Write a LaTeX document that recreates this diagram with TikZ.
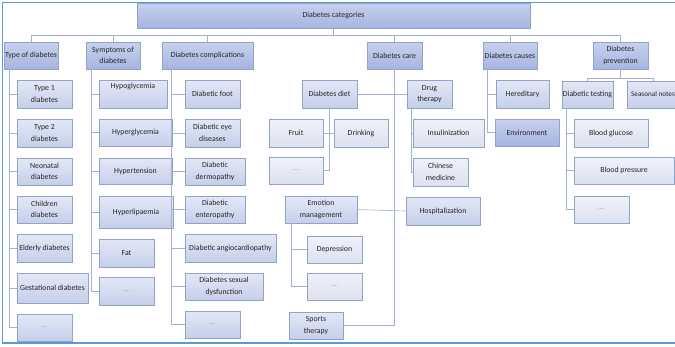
\documentclass[tikz,border=0pt]{standalone}
\usepackage{fontspec}
\setmainfont{Carlito}
\usetikzlibrary{calc}
\definecolor{frameblue}{HTML}{5B9BD5}
\definecolor{edgec}{HTML}{A3B0D6}
\definecolor{bord}{HTML}{93A3C8}
\definecolor{dkT}{HTML}{C7D0EE}\definecolor{dkB}{HTML}{A6B5E0}
\definecolor{mdT}{HTML}{E3E8F6}\definecolor{mdB}{HTML}{C5CFEA}
\definecolor{ltT}{HTML}{F0F2F9}\definecolor{ltB}{HTML}{DCE1F0}
\tikzset{
  basebox/.style={draw=bord, line width=0.5pt, inner sep=0pt, align=center,
    font=\fontsize{7.8}{11.5}\selectfont, text=black!85},
  boxdark/.style={basebox, top color=dkT, bottom color=dkB},
  boxmid/.style={basebox, top color=mdT, bottom color=mdB},
  boxlight/.style={basebox, top color=ltT, bottom color=ltB},
  conn/.style={draw=edgec, line width=0.6pt}
}
\newcommand\bx[7]{\node[#7, minimum width={(#4-#2)*1pt}, minimum height={(#5-#3)*1pt}]
  (#1) at ({(#2+#4)/2},{(#3+#5)/2}) {#6};}
\newcommand\dts{{\fontsize{5}{6}\selectfont\color{black!55}.....}}
\begin{document}
\begin{tikzpicture}[x=1pt,y=-1pt]
\useasboundingbox (0,0) rectangle (675,346);
\clip (0,0) rectangle (675,346);
\fill[white] (0,0) rectangle (675,346);

% root and level 1
\bx{R}{137}{3}{530}{28}{Diabetes categories}{boxdark}
\bx{A}{4}{42}{58}{69}{Type of diabetes}{boxdark}
\bx{B}{86}{42}{140}{69}{Symptoms of\\diabetes}{boxdark}
\bx{C}{162}{42}{253}{69}{Diabetes complications}{boxdark}
\bx{D}{367}{42}{422}{69}{Diabetes care}{boxdark}
\bx{E}{483}{42}{537}{69}{Diabetes causes}{boxdark}
\bx{F}{593}{42}{648}{69}{Diabetes\\prevention}{boxdark}

% type children
\bx{a1}{17}{80}{72}{108}{Type 1\\diabetes}{boxmid}
\bx{a2}{17}{119}{72}{147}{Type 2\\diabetes}{boxmid}
\bx{a3}{17}{158}{72}{185}{Neonatal\\diabetes}{boxmid}
\bx{a4}{17}{196}{72}{223}{Children\\diabetes}{boxmid}
\bx{a5}{17}{234}{72}{262}{Elderly diabetes}{boxmid}
\bx{a6}{17}{273}{88}{303}{Gestational diabetes}{boxmid}
\bx{a7}{17}{314}{72}{341}{\dts}{boxmid}

% symptoms children
\bx{b1}{99}{80}{167}{108}{Hypoglycemia\\[4pt]~}{boxmid}
\bx{b2}{99}{119}{172}{146}{Hyperglycemia}{boxmid}
\bx{b3}{99}{158}{172}{184}{Hypertension}{boxmid}
\bx{b4}{99}{196}{173}{228}{Hyperlipaemia}{boxmid}
\bx{b5}{99}{239}{154}{267}{Fat}{boxmid}
\bx{b6}{99}{277}{154}{305}{\dts}{boxmid}

% complications children
\bx{c1}{185}{80}{240}{108}{Diabetic foot}{boxmid}
\bx{c2}{185}{119}{240}{147}{Diabetic eye\\diseases}{boxmid}
\bx{c3}{185}{158}{245}{185}{Diabetic\\dermopathy}{boxmid}
\bx{c4}{185}{196}{245}{223}{Diabetic\\enteropathy}{boxmid}
\bx{c5}{185}{234}{276}{262}{Diabetic angiocardiopathy}{boxmid}
\bx{c6}{185}{273}{263}{300}{Diabetes sexual\\dysfunction}{boxmid}
\bx{c7}{185}{311}{240}{338}{\dts}{boxmid}

% care children
\bx{d1}{302}{80}{357}{108}{Diabetes diet}{boxmid}
\bx{d2}{407}{80}{452}{108}{Drug\\therapy}{boxmid}
\bx{d11}{269}{119}{323}{147}{Fruit}{boxlight}
\bx{d12}{334}{119}{388}{147}{Drinking}{boxlight}
\bx{d13}{269}{157}{323}{184}{\dts}{boxlight}
\bx{d21}{413}{119}{484}{147}{Insulinization}{boxlight}
\bx{d22}{413}{158}{468}{186}{Chinese\\medicine}{boxlight}
\bx{d3}{285}{196}{357}{223}{Emotion\\management}{boxmid}
\bx{d4}{406}{197}{480}{225}{Hospitalization}{boxmid}
\bx{d31}{307}{236}{362}{263}{Depression}{boxlight}
\bx{d32}{307}{273}{362}{300}{\dts}{boxlight}
\bx{d5}{289}{312}{343}{339}{Sports\\therapy}{boxmid}

% causes children
\bx{e1}{496}{80}{549}{108}{Hereditary}{boxmid}
\bx{e2}{495}{119}{559}{146}{Environment}{boxdark}

% prevention children
\bx{f1}{562}{81}{613}{108}{Diabetic testing}{boxmid}
\node[boxmid, minimum width=52pt, minimum height=27pt, font=\fontsize{7.2}{11}\selectfont]
  (f2) at (653,94.5) {Seasonal notes};
\bx{f11}{574}{119}{648}{147}{Blood glucose}{boxlight}
\bx{f12}{574}{157}{674}{184}{Blood pressure}{boxlight}
\bx{f13}{574}{196}{629}{223}{\dts}{boxlight}

% connectors root -> level 1
\foreach \n in {A,B,C,D,E,F}{
  \draw[conn] (R.south) -- ++(0,7) -| (\n.north);
}
% type
\foreach \n in {a1,a2,a3,a4,a5,a6,a7}{
  \draw[conn] ([xshift=6pt]A.south west) |- (\n.west);
}
% symptoms
\foreach \n in {b1,b2,b3,b4,b5,b6}{
  \draw[conn] ([xshift=6pt]B.south west) |- (\n.west);
}
% complications
\foreach \n in {c1,c2,c3,c4,c5,c6,c7}{
  \draw[conn] ([xshift=10pt]C.south west) |- (\n.west);
}
% care
\draw[conn] (D.south) |- (d5.east);
\draw[conn] (d1.east) -- (d2.west);
\draw[conn] (d3.east) -- (d4.west);
\draw[conn] (d1.south) |- (d13.east);
\draw[conn] (d11.east) -- (d12.west);
\foreach \n in {d21,d22}{
  \draw[conn] ([xshift=5pt]d2.south west) |- (\n.west);
}
\foreach \n in {d31,d32}{
  \draw[conn] ([xshift=7pt]d3.south west) |- (\n.west);
}
% causes
\foreach \n in {e1,e2}{
  \draw[conn] ([xshift=5pt]E.south west) |- (\n.west);
}
% prevention
\foreach \n in {f1,f2}{
  \draw[conn] (F.south) -- ++(0,9) -| (\n.north);
}
\foreach \n in {f11,f12,f13}{
  \draw[conn] ([xshift=5pt]f1.south west) |- (\n.west);
}

% frame
\draw[frameblue, line width=1.2pt] (675,2.5) -- (2.5,2.5) -- (2.5,343) -- (675,343);
\end{tikzpicture}
\end{document}
